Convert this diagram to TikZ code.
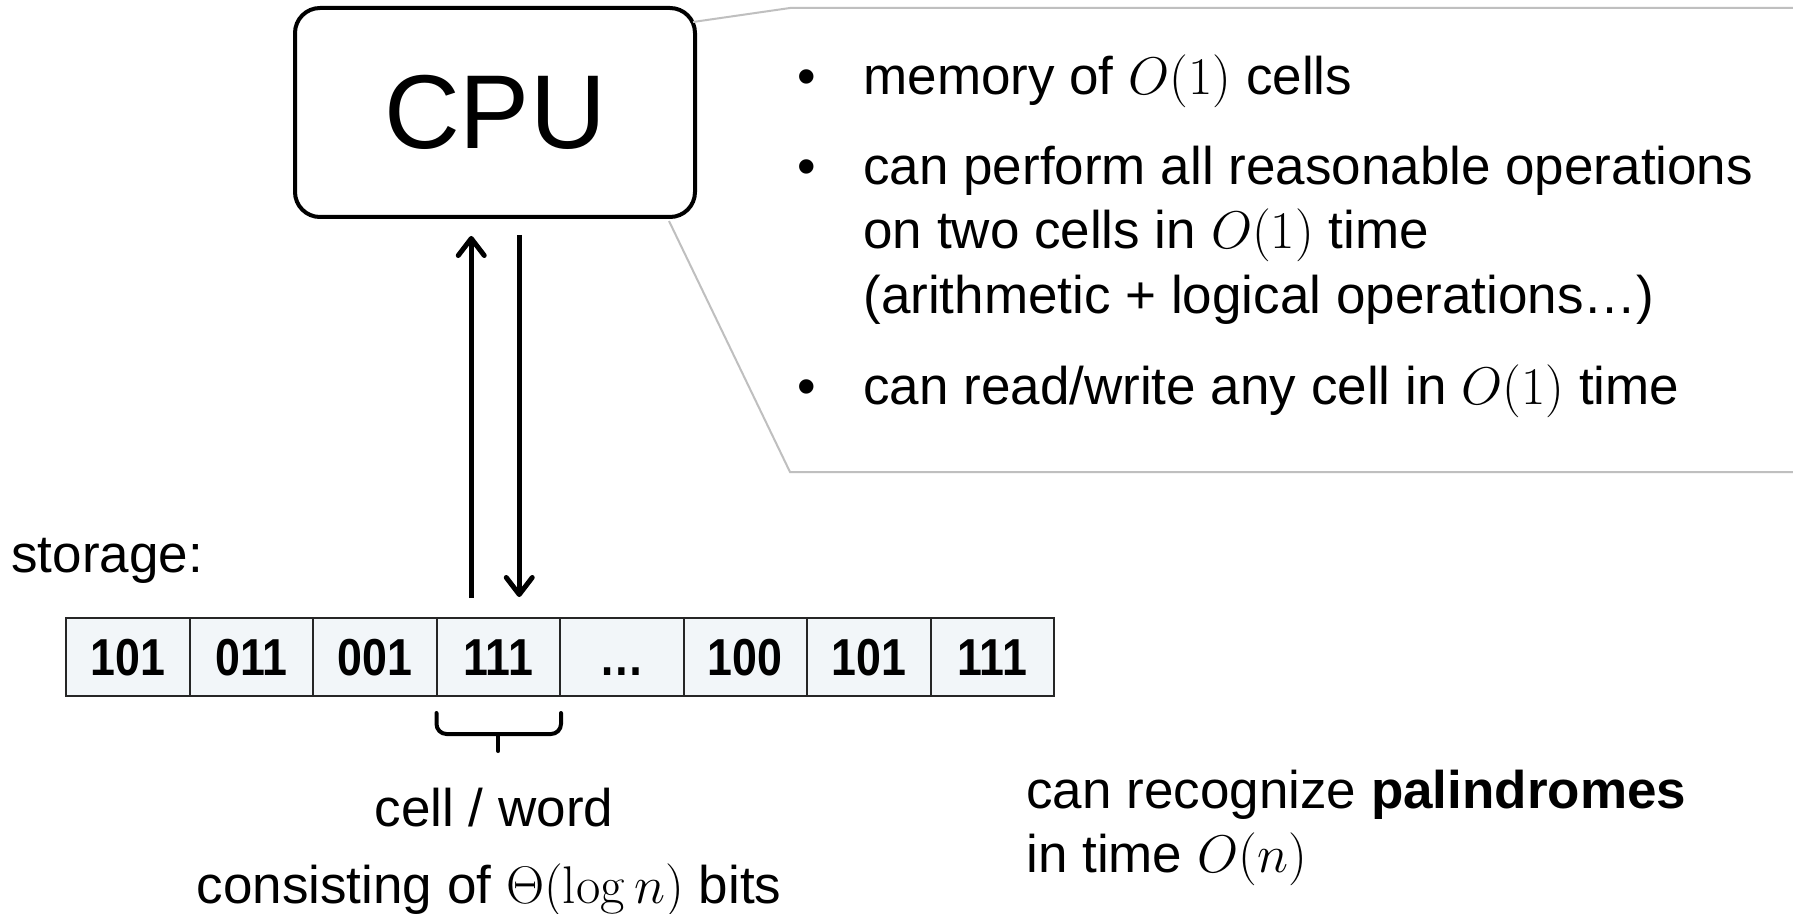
\RequirePackage{fix-cm}
\documentclass[tikz,border=0pt]{standalone}
\usepackage[no-math]{fontspec}
\setmainfont{Liberation Sans}
\newfontfamily\cellfont[FakeStretch=0.86]{Liberation Sans}
\usetikzlibrary{arrows.meta,calc}

\definecolor{calloutgray}{HTML}{BFBFBF}
\definecolor{cellfill}{HTML}{F2F6F9}
\definecolor{cellline}{HTML}{262626}

\begin{document}
\begin{tikzpicture}[
  x=0.5pt, y=-0.5pt,
  cpubox/.style={draw, line width=2pt, rounded corners=12.5pt,
    minimum width=200pt, minimum height=104.5pt, inner sep=0pt,
    font=\fontsize{52.5}{60}\selectfont},
  memcell/.style={draw=cellline, fill=cellfill, line width=1pt,
    minimum width=61.75pt, minimum height=39pt, inner sep=0pt,
    text height=18.5pt, text depth=0pt,
    font=\cellfont\bfseries\fontsize{26}{30}\selectfont},
  body/.style={inner sep=0pt, anchor=base west, font=\fontsize{26.5}{32}\selectfont},
  centred/.style={body, anchor=base},
  arr/.style={line width=2.5pt, -{Straight Barb[round,length=8.5pt,width=13pt]}},
  callout/.style={draw=calloutgray, line width=1pt},
  brace/.style={line width=2pt, rounded corners=5pt, line cap=round}
]
\path[use as bounding box, fill=white] (0,0) rectangle (1793,914);

% processor
\node[cpubox] (cpu) at (495,112.5) {CPU};

% callout listing the processor's abilities
\draw[callout] (693,22) -- (790,8) -- (1793,8);
\draw[callout] (669,221) -- (790,472) -- (1793,472);

\node[body] (b1) at (797,95) {•};
\node[body] (t1) at (863,95) {memory of $O(1)$ cells};
\node[body] (b2) at (797,185) {•};
\node[body] (t2) at (863,185) {can perform all reasonable operations};
\node[body] (t3) at (863,249) {on two cells in $O(1)$ time};
\node[body] (t4) at (863,314) {(arithmetic + logical operations…)};
\node[body] (b3) at (797,405) {•};
\node[body] (t5) at (863,405) {can read/write any cell in $O(1)$ time};

% storage row
\node[body] (storage) at (11,572) {storage:};
\foreach \t [count=\i] in {101,011,001,111,…,100,101,111}
  \node[memcell] (c\i) at ({66+(\i-0.5)*123.5},657) {\t};

% read / write arrows between storage and processor
\draw[arr, shorten >=8.5pt] ($(c4.north)+(-27,-19)$) -- ($(c4.north |- cpu.south)+(-27,0)$);
\draw[arr, shorten <=8pt] ($(c4.north |- cpu.south)+(21,0)$) -- ($(c4.north)+(21,-20)$);

% brace marking one cell
\draw[brace] ($(c4.south west)+(1,16)$) -- ++(0,21) -- ($(c4.south east)+(0,37)$) -- ++(0,-21);
\draw[line width=2pt, line cap=round] ($(c4.south)+(0,37)$) -- ++(0,17);

\node[centred] (word) at (494,826) {cell / word};
\node[centred] (bits) at (489,903) {consisting of $\Theta(\log n)$ bits};

% result
\node[body] (r1) at (1026,808) {can recognize \textbf{palindromes}};
\node[body] (r2) at (1026,872) {in time $O(n)$};
\end{tikzpicture}
\end{document}
